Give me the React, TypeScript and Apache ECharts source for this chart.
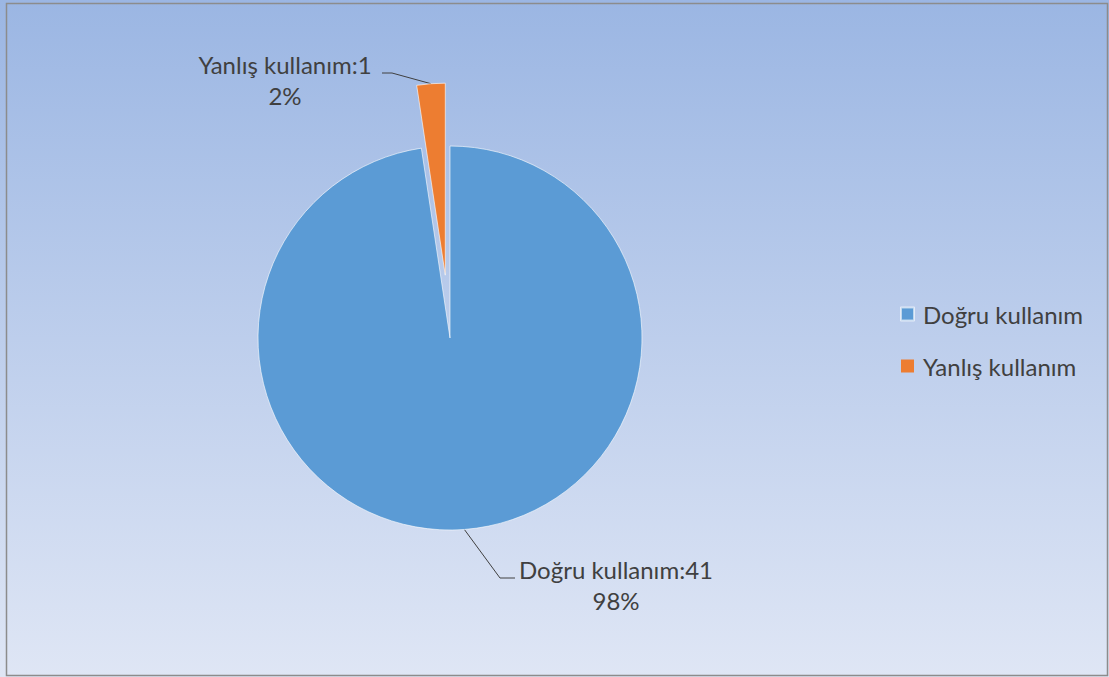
import React, { useEffect, useRef } from "react";
import * as echarts from "echarts";

const categories = ["Doğru kullanım", "Yanlış kullanım"];
const values = [41, 1];
const colors = ["#5b9bd5", "#ed7d31"];
const explodedIndex = 1;

export default function App() {
  const ref = useRef<HTMLDivElement>(null);
  useEffect(() => {
    document.body.style.margin = "0";
    const chart = echarts.init(ref.current!, null, { renderer: "svg" });
    const font = "Lato, 'Open Sans', sans-serif";
    const cx = 450;
    const cy = 338;
    const R = 192;
    const explode = 63;
    const total = values.reduce((a, b) => a + b, 0);
    // mid angles (clockwise from 12 o'clock) computed from the data
    let acc = 0;
    const mids = values.map((v) => {
      const m = ((acc + v / 2) / total) * Math.PI * 2;
      acc += v;
      return m;
    });
    const dir = (i: number) => [Math.sin(mids[i]), -Math.cos(mids[i])];
    const centers = values.map((_, i) =>
      i === explodedIndex
        ? [cx + dir(i)[0] * explode, cy + dir(i)[1] * explode]
        : [cx, cy]
    );
    const anchor = (i: number) => [
      centers[i][0] + dir(i)[0] * R,
      centers[i][1] + dir(i)[1] * R,
    ];
    const labelPos = [
      { x: 616, y: 585, elbow: [500, 578], end: [515, 578] },
      { x: 285, y: 80, elbow: [392, 73], end: [382, 73] },
    ];

    const makeSeries = (idx: number) => ({
      type: "pie",
      center: centers[idx],
      radius: R,
      startAngle: 90,
      clockwise: true,
      percentPrecision: 0,
      emphasis: { disabled: true },
      itemStyle: { borderColor: "rgba(255,255,255,0.6)", borderWidth: 1 },
      label: {
        show: true,
        position: "outside",
        formatter: "{b}:{c}\n{d}%",
        fontFamily: font,
        fontSize: 24,
        lineHeight: 31,
        color: "#404040",
        align: "center",
      },
      labelLine: {
        show: true,
        length: 20,
        length2: 15,
        lineStyle: { color: "#404040", width: 1 },
      },
      labelLayout: () => {
        const p = labelPos[idx];
        return {
          x: p.x,
          y: p.y,
          align: "center",
          verticalAlign: "middle",
          labelLinePoints: [anchor(idx), p.elbow, p.end],
        };
      },
      data: categories.map((c, i) => ({
        name: c,
        value: values[i],
        itemStyle:
          i === idx
            ? { color: colors[i] }
            : { color: "rgba(0,0,0,0)", borderWidth: 0 },
        label: { show: i === idx },
        labelLine: { show: i === idx },
      })),
    });

    chart.setOption({
      animation: false,
      color: colors,
      backgroundColor: {
        type: "linear",
        x: 0,
        y: 0,
        x2: 0,
        y2: 1,
        colorStops: [
          { offset: 0, color: "#9bb6e3" },
          { offset: 1, color: "#dfe6f5" },
        ],
      },
      graphic: [
        {
          type: "rect",
          shape: { x: 6.5, y: 3.5, width: 1101, height: 672 },
          style: { fill: "none", stroke: "#8c8c8c", lineWidth: 1.5 },
          silent: true,
        },
      ],
      legend: {
        orient: "vertical",
        left: 900,
        top: 302,
        padding: 0,
        itemWidth: 13,
        itemHeight: 13,
        itemGap: 28,
        icon: "rect",
        textStyle: {
          fontFamily: font,
          fontSize: 24,
          color: "#404040",
          padding: [0, 0, 0, 4],
        },
        data: categories.map((c, i) => ({ name: c, itemStyle: { color: colors[i] } })),
      },
      series: [makeSeries(0), makeSeries(1)],
    });
    return () => chart.dispose();
  }, []);
  return (
    <div
      ref={ref}
      style={{ position: "absolute", left: 0, top: 0, width: 1109, height: 677 }}
    />
  );
}
